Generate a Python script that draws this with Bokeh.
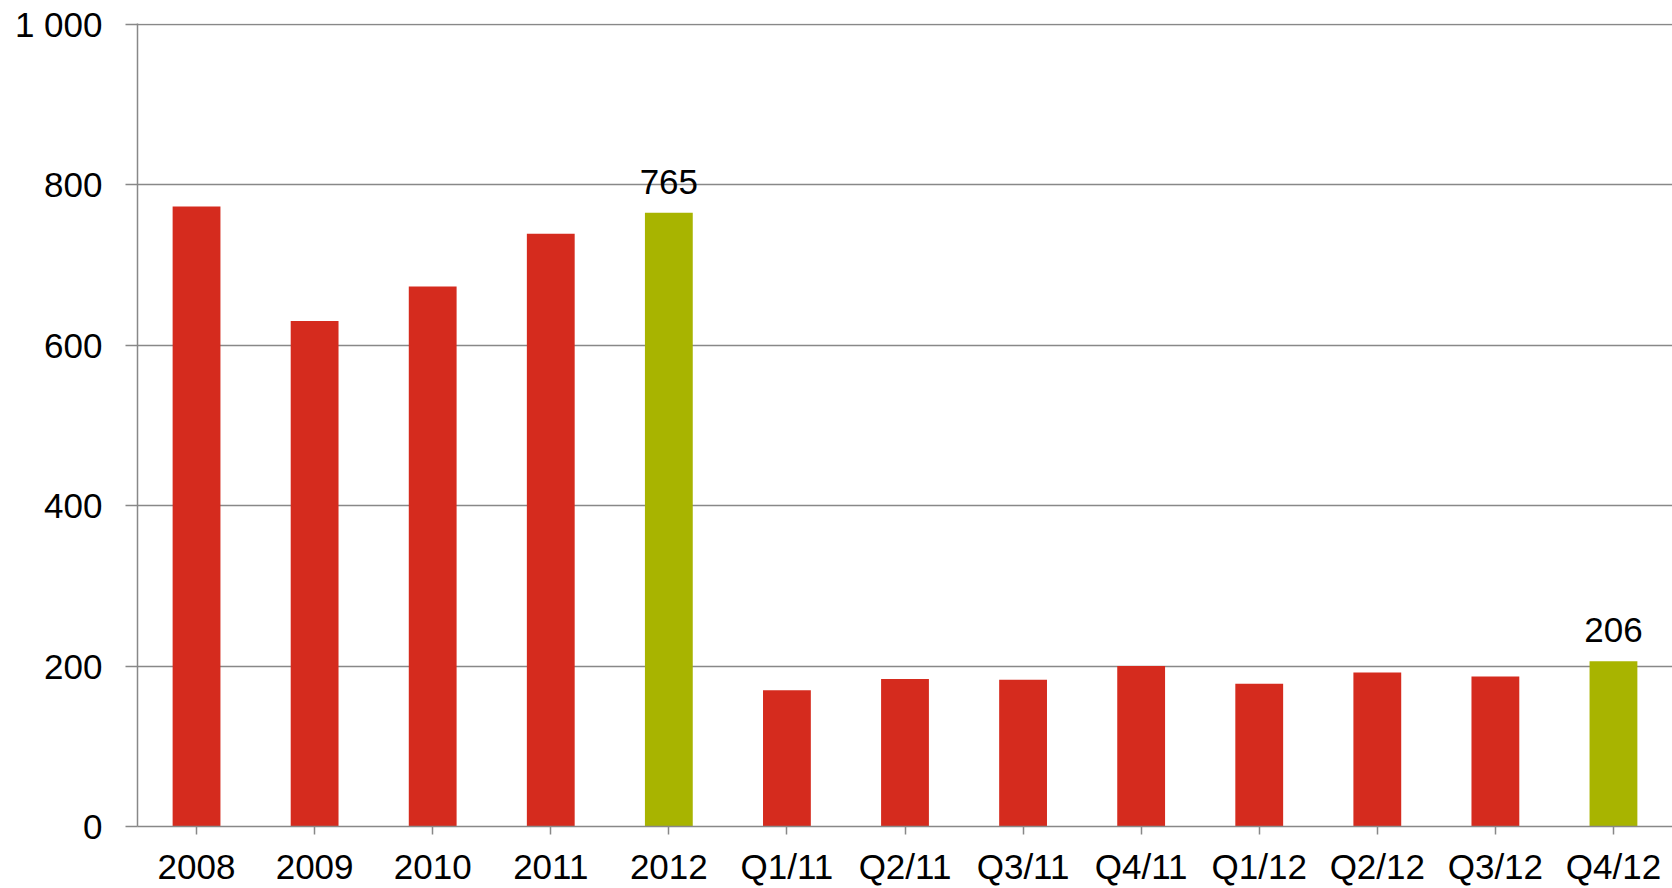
from bokeh.plotting import figure
from bokeh.models import ColumnDataSource, FactorRange, Range1d, FixedTicker
from bokeh.core.properties import value
from bokeh.embed import file_html
from bokeh.resources import INLINE

categories = ["2008", "2009", "2010", "2011", "2012",
              "Q1/11", "Q2/11", "Q3/11", "Q4/11",
              "Q1/12", "Q2/12", "Q3/12", "Q4/12"]
values = [773, 630, 673, 739, 765, 170, 184, 183, 200, 178, 192, 187, 206]
highlight = ["2012", "Q4/12"]
y_ticks = [0, 200, 400, 600, 800, 1000]
y_tick_labels = ["0", "200", "400", "600", "800", "1 000"]

RED = "#D52B1E"
GREEN = "#A8B400"
GRAY = "#888888"
FONT = "Liberation Sans"

colors = [GREEN if c in highlight else RED for c in categories]
src = ColumnDataSource(dict(x=categories, top=values, color=colors))
lab = ColumnDataSource(dict(
    x=[c for c in categories if c in highlight],
    y=[v for c, v in zip(categories, values) if c in highlight],
    t=[str(v) for c, v in zip(categories, values) if c in highlight],
))

p = figure(width=1672, height=888, x_range=FactorRange(*categories, range_padding=0),
           y_range=Range1d(0, 1001), output_backend="svg", toolbar_location=None,
           min_border_left=137, min_border_top=23, min_border_right=0, min_border_bottom=10)
p.outline_line_color = None
p.x_range.range_padding = 0

p.vbar(x="x", top="top", width=0.405, color="color", source=src, line_color=None)
p.text(x="x", y="y", text="t", source=lab, text_align="center", text_baseline="bottom",
       y_offset=-19, text_font=value(FONT), text_font_size="35px", text_color="black")

p.xgrid.grid_line_color = None
p.ygrid.grid_line_color = GRAY
p.ygrid.grid_line_width = 1.3
p.yaxis.ticker = FixedTicker(ticks=y_ticks)
p.yaxis.major_label_overrides = {t: l for t, l in zip(y_ticks, y_tick_labels)}
p.yaxis.minor_tick_line_color = None
p.yaxis.major_tick_in = 0
p.yaxis.major_tick_out = 12
p.yaxis.major_label_standoff = 23
for ax in (p.xaxis, p.yaxis):
    ax.axis_line_color = GRAY
    ax.axis_line_width = 1.5
    ax.major_tick_line_color = GRAY
    ax.major_tick_line_width = 1.5
    ax.major_label_text_font = FONT
    ax.major_label_text_font_size = "35px"
    ax.major_label_text_color = "black"
p.xaxis.major_tick_in = 0
p.xaxis.major_tick_out = 8
p.xaxis.major_label_standoff = 12
p.xaxis.group_text_font_size = "0px"

open("out.html", "w").write(file_html(p, INLINE))
